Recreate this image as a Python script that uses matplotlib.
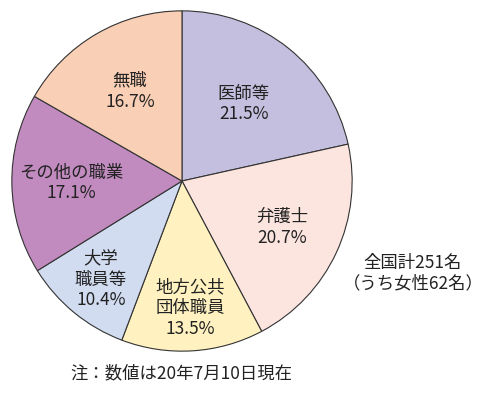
import numpy as np
import matplotlib
matplotlib.use("Agg")
import matplotlib.pyplot as plt

plt.rcParams['font.family'] = ['Noto Sans CJK JP', 'DejaVu Sans']

categories = ["医師等", "弁護士", "地方公共\n団体職員", "大学\n職員等", "その他の職業", "無職"]
values = [21.5, 20.7, 13.5, 10.4, 17.1, 16.7]
colors = ["#C5BFDF", "#FCE4DF", "#FFF2C0", "#D1DCF0", "#C28BBF", "#F9CFB5"]
label_radius = [0.58, 0.65, 0.75, 0.75, 0.65, 0.61]
total_text = "全国計251名\n（うち女性62名）"
note_text = "注：数値は20年7月10日現在"

W, H = 487, 393
fig = plt.figure(figsize=(W / 100, H / 100), dpi=100)
fig.patch.set_facecolor("white")

cx, cy, R = 182, 181, 171
ax = fig.add_axes([(cx - R) / W, (H - cy - R) / H, 2 * R / W, 2 * R / H])

wedges, _ = ax.pie(values, colors=colors, startangle=90, counterclock=False,
                   radius=1, wedgeprops=dict(edgecolor="#333333", linewidth=0.8))
ax.set_xlim(-1.005, 1.005)
ax.set_ylim(-1.005, 1.005)
ax.set_aspect("equal")
ax.axis("off")

for w, cat, v, r in zip(wedges, categories, values, label_radius):
    th = np.deg2rad((w.theta1 + w.theta2) / 2)
    ax.text(r * np.cos(th), r * np.sin(th), f"{cat}\n{v:.1f}%", ha="center", va="center",
            fontsize=12.5, color="#222222", linespacing=1.2)

fig.text(413 / W, 1 - 273 / H, total_text, ha="center", va="center", fontsize=12.5,
         color="#222222", linespacing=1.2)
fig.text(181 / W, 1 - 373 / H, note_text, ha="center", va="center", fontsize=12.5,
         color="#222222")

fig.savefig("out.png", dpi=100, facecolor="white")
